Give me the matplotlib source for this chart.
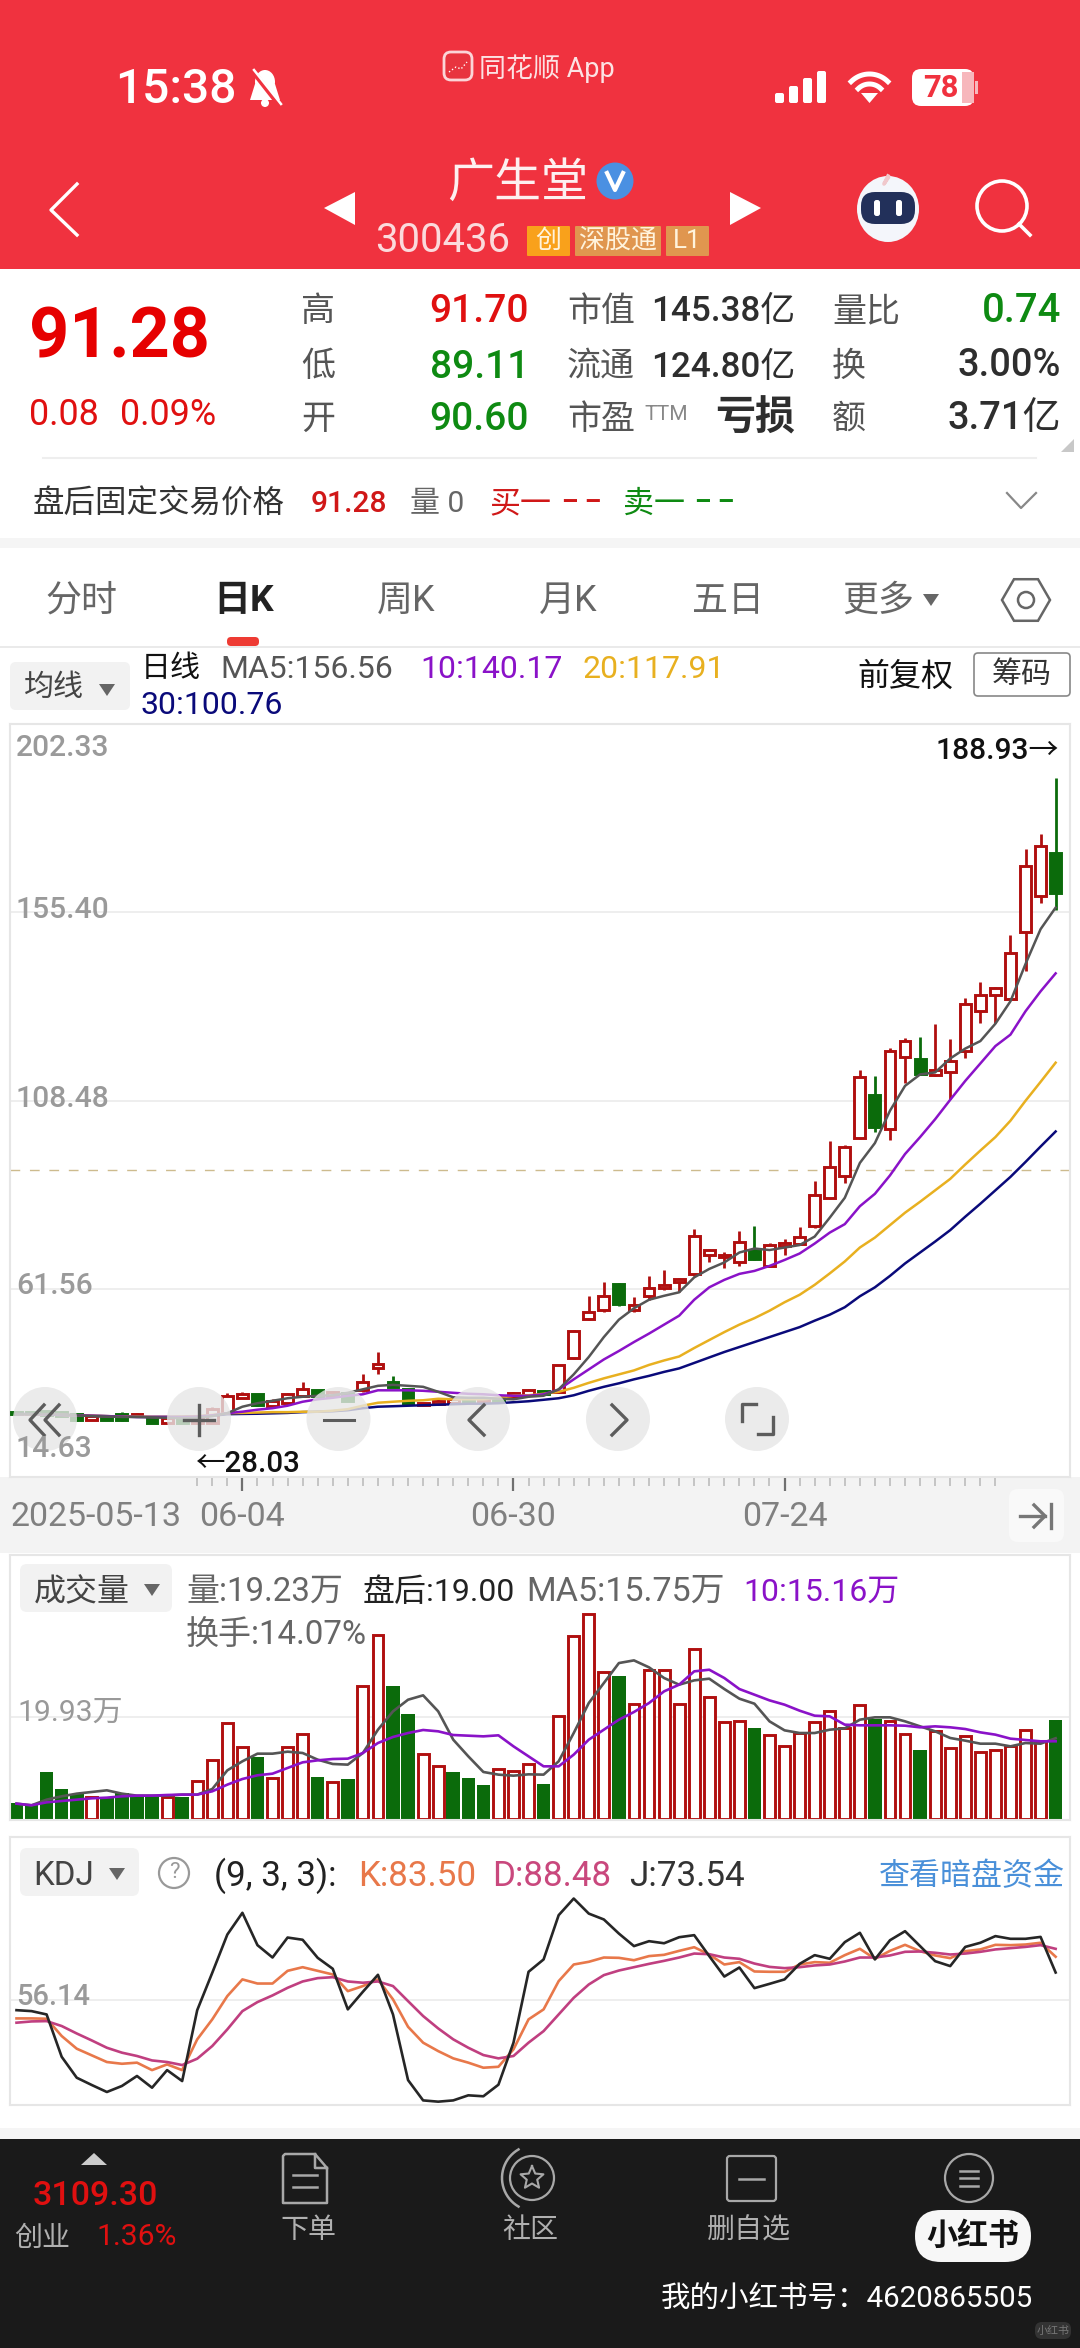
import matplotlib
matplotlib.use('Agg')
import matplotlib.pyplot as plt
from matplotlib.patches import FancyBboxPatch, Circle, Ellipse, Polygon, Rectangle, RegularPolygon
import numpy as np

plt.rcParams['font.family'] = ['Roboto', 'Noto Sans CJK SC', 'DejaVu Sans']

W, H = 1080, 2348

# daily candles
opens = [30.79,30.9,31.16,30.9,30.29,28.93,29.79,30.29,29.92,29.42,28.18,29.05,28.03,28.2,
         30.66,34.38,35.25,32.4,33.02,34.88,36.24,34.88,35.62,36.24,41.82,38.35,36.49,32.52,
         32.77,33.14,34.26,33.51,34.38,34.63,35.12,36.0,
         35.87,44.3,54.1,56.33,62.78,56.33,59.8,61.66,63.15,65.26,70.09,69.35,68.11,71.21,
         67.12,72.32,72.7,77.16,84.23,89.69,99.11,109.77,101.34,119.2,118.83,114.73,115.6,
         120.81,130.73,134.7,133.83,150.57,159.37,170.29]
closes = [30.29,30.3,30.16,29.9,28.8,29.79,28.93,28.8,30.29,28.18,29.42,28.03,29.42,31.5,
          34.88,35.37,32.52,33.63,35.25,36.49,34.88,35.87,33.63,38.35,42.81,37.11,32.77,33.02,
          33.63,34.0,33.39,34.38,33.63,35.62,36.24,35.37,
          42.45,51.0,55.71,59.8,57.82,57.57,61.66,62.53,63.89,74.68,71.09,69.97,73.19,68.85,
          72.45,73.07,74.56,84.85,91.92,96.88,114.24,101.84,120.81,123.29,114.98,116.1,118.45,
          132.59,134.82,136.43,145.36,166.94,171.9,160.24]
highs = [30.9,31.0,31.3,31.0,30.4,29.9,29.9,30.9,30.5,29.5,29.5,29.2,29.6,32.1,
         35.62,35.87,35.4,34.0,35.62,38.35,36.4,36.1,35.8,40.2,45.79,39.84,36.6,33.2,
         34.4,34.3,34.4,34.5,34.5,35.9,36.5,36.3,
         42.6,51.37,59.68,63.15,62.9,59.43,64.63,66.13,64.14,76.5,71.34,70.84,76.05,77.16,
         73.07,74.06,77.04,88.45,98.37,97.5,115.97,114.61,121.68,124.16,124.28,127.63,123.91,
         133.95,137.92,136.68,149.7,171.28,175.0,188.93]
lows = [30.2,30.2,30.1,29.8,28.7,28.8,28.8,28.7,29.8,28.1,28.1,28.03,28.03,28.1,
        30.5,34.2,32.4,32.15,32.77,34.7,34.7,34.7,33.5,35.87,40.2,37.0,32.6,32.4,
        32.6,33.0,33.3,33.4,33.5,34.5,35.0,35.2,
        35.7,43.93,53.85,55.71,57.2,55.71,58.81,61.29,60.67,64.63,68.11,66.62,67.12,68.7,
        66.87,69.97,72.45,76.79,83.86,87.95,98.86,100.72,98.61,112.75,114.73,114.49,108.78,
        118.95,127.88,127.88,133.46,140.65,157.64,155.9]

ma5 = [30.3,30.3,30.3,30.2,30.0,29.8,29.7,29.6,29.6,29.5,29.4,29.3,29.4,29.8,
       30.54,32.15,33.02,33.63,34.26,34.63,34.88,35.0,35.62,36.49,37.36,37.6,37.36,37.11,
       35.87,34.5,34.38,34.38,34.13,34.0,34.63,34.88,
       36.49,40.21,44.55,49.51,53.85,56.69,58.81,59.8,60.67,64.39,66.5,68.11,70.59,71.58,
       71.21,71.83,72.45,74.56,79.27,84.23,92.91,97.87,105.93,112.13,114.98,115.48,118.95,
       121.43,123.29,127.63,133.21,142.51,151.19,156.56]
ma10 = [30.3,30.3,30.2,30.1,30.0,29.9,29.8,29.7,29.6,29.6,29.6,29.6,29.7,30.0,
        30.54,30.91,31.41,31.78,32.4,33.39,34.0,34.38,34.88,35.25,36.24,36.24,36.24,36.12,
        35.87,35.62,35.37,35.25,35.0,34.88,34.88,35.25,
        36.4,38.97,41.45,43.93,46.04,48.27,50.38,52.61,54.84,58.81,61.91,63.77,65.26,66.0,
        67.24,68.73,70.34,72.82,75.55,77.66,82.12,85.22,89.81,95.14,99.36,103.82,108.66,
        113.37,117.71,122.05,124.9,130.73,135.69,140.17]
ma20 = [30.3,30.2,30.2,30.1,30.0,29.9,29.8,29.7,29.7,29.6,29.6,29.7,29.8,30.1,
        30.54,30.6,30.7,30.8,30.8,30.9,30.91,31.16,31.53,32.4,33.14,33.39,33.63,33.76,
        34.13,34.0,34.0,34.0,34.38,34.88,35.0,35.37,
        35.87,36.86,38.1,39.22,40.21,41.2,42.57,43.68,44.67,46.78,48.77,50.75,52.61,54.22,
        56.08,58.19,60.05,62.53,65.38,68.36,71.83,74.31,77.41,80.51,83.24,86.09,88.94,
        92.54,96.0,99.36,103.45,108.41,113.12,117.91]
ma30 = [30.3,30.3,30.2,30.1,30.0,29.9,29.8,29.7,29.6,29.6,29.6,29.6,29.7,29.9,
        30.29,30.35,30.4,30.5,30.6,30.8,30.91,31.03,31.28,31.78,32.15,32.27,32.4,32.52,
        32.65,32.77,32.9,32.9,33.02,33.27,33.51,33.88,
        34.26,35.0,36.12,37.11,37.98,38.97,39.84,40.83,41.7,43.06,44.43,45.79,47.03,48.27,
        49.51,50.75,51.99,53.6,55.09,56.95,59.68,61.91,64.76,67.86,70.59,73.32,76.17,
        79.52,82.74,86.09,89.44,93.16,97.0,100.76]

price_ticks = [202.33, 155.40, 108.48, 61.56, 14.63]
last_price = 91.28
date_idx = [15, 33, 51]
date_labels = ['06-04', '06-30', '07-24']

# volume in 万
vols = [3.12,2.8,9.17,5.85,4.94,4.29,4.1,5.07,4.42,4.29,4.29,4.29,7.41,11.57,18.79,14.04,
        12.03,7.93,14.04,16.58,8.19,7.15,7.87,26.0,35.95,25.87,20.48,12.74,10.34,9.17,8.0,
        6.63,9.82,9.3,10.73,6.89,20.15,35.75,39.91,28.73,27.82,22.49,28.99,28.99,22.49,33.15,
        23.79,18.98,19.05,17.75,16.38,14.24,16.77,18.92,21.0,17.75,22.17,19.57,19.11,16.51,
        13.39,17.23,13.78,16.25,13.13,13.46,14.17,17.29,15.15,19.23]
vol_up = [0,0,0,0,0,1,0,0,0,0,1,0,1,1,1,1,0,1,1,1,0,1,0,1,1,0,0,1,1,0,0,0,1,1,1,0,
          1,1,1,1,0,1,1,1,1,1,1,1,1,0,1,1,1,1,1,1,1,0,1,1,0,1,1,1,1,1,1,1,1,0]
vol_ma5 = [2.99,2.67,3.77,4.42,4.94,5.27,5.59,4.94,4.55,4.55,4.55,4.75,4.75,5.85,9.49,11.25,
           12.74,12.74,13.13,12.87,11.57,10.73,10.6,12.87,17.42,21.0,23.27,24.12,21.0,15.47,
           12.22,9.17,8.65,8.45,8.71,8.65,11.25,16.77,22.62,26.52,30.42,30.94,29.58,27.5,26.2,
           27.04,27.37,25.35,23.47,22.49,19.05,17.29,16.77,16.77,17.42,17.68,19.37,19.83,19.83,
           19.05,18.07,17.1,15.8,15.28,14.69,14.69,14.17,14.82,14.69,15.75]
vol_ma10 = [2.99,2.67,3.25,3.51,3.77,4.03,4.16,4.42,4.55,4.55,4.68,4.75,4.75,5.4,6.7,7.8,
            8.52,8.84,9.95,11.05,11.44,11.7,11.77,12.87,14.82,16.0,16.77,17.36,17.1,16.38,
            16.25,16.12,16.32,14.17,12.22,10.27,10.27,12.55,15.47,17.42,19.37,20.87,22.62,
            24.9,26.2,28.8,29.12,27.5,25.35,24.25,23.14,22.3,21.13,20.15,20.02,18.4,18.27,
            18.27,18.27,18.2,17.88,18.07,17.88,17.55,16.9,16.45,15.67,15.41,15.15,15.16]

kdj_j = [49.8,49.2,47.1,20.4,7.2,2.6,-1.8,2.0,8.3,0.9,12.0,5.1,49.8,73.4,97.5,111.2,90.8,83.0,
         95.6,94.2,82.8,75.9,50.3,61.4,72.1,47.1,5.7,-7.1,-7.9,-7.1,-3.9,-4.5,2.8,29.3,74.0,81.8,
         109.7,120.2,110.7,107.0,98.1,90.2,93.3,92.0,95.8,97.1,83.9,71.0,76.7,63.7,66.4,69.2,
         79.0,84.5,82.2,92.7,98.6,81.8,93.9,99.6,90.2,80.7,77.6,89.7,92.3,96.5,94.8,94.8,96.0,73.54]
kdj_k = [44.6,44.6,44.4,33.5,25.5,21.3,17.1,16.0,16.7,12.0,15.6,12.0,31.4,44.0,58.7,69.2,66.6,66.6,
         74.6,76.9,74.6,72.3,61.8,65.0,69.2,56.6,39.3,29.3,24.0,19.4,16.7,13.5,14.1,25.1,44.0,50.3,
         68.1,78.6,80.3,83.0,82.8,81.3,83.9,84.7,87.2,89.5,84.9,78.6,80.1,74.2,74.0,74.0,
         78.6,80.1,79.7,84.5,88.5,82.2,87.2,91.0,87.0,84.3,82.6,87.0,88.1,91.0,90.8,91.2,92.3,83.5]
kdj_d = [41.9,42.7,42.9,39.8,35.1,30.7,26.1,23.0,20.9,18.1,17.1,15.2,19.2,27.2,37.7,49.2,54.9,59.1,
         63.9,67.9,70.0,70.6,67.9,67.1,67.9,65.0,55.5,46.1,38.3,31.4,26.1,21.5,19.4,20.9,29.3,36.6,
         47.1,57.6,66.0,71.9,74.8,76.9,79.0,80.9,83.0,85.5,85.1,83.0,82.2,79.2,77.1,76.3,
         76.9,78.0,78.6,80.5,83.0,83.0,84.3,86.6,86.8,86.0,84.9,85.5,86.6,88.1,88.9,89.7,90.8,88.48]

RED = '#B00F0F'
GREEN = '#0B6B0B'
HEAD = '#F0323F'
UP_TXT = '#E01010'
DN_TXT = '#0E8A12'
GRID = '#EBEBEB'
PURPLE = '#8A12C8'


def pxa(left, top, right, bottom):
    ax = fig.add_axes([left / W, 1 - bottom / H, (right - left) / W, (bottom - top) / H])
    ax.patch.set_alpha(0)
    return ax


def frame(ax):
    ax.set_xticks([])
    ax.set_yticks([])
    for s in ax.spines.values():
        s.set_color('#E6E6E6')
        s.set_linewidth(1.5)


def t(x, y, s, size, color='#333333', ha='left', weight='normal'):
    # va=center sits a little high with these fonts
    return a.text(x, y + 3, s, fontsize=size * 0.72, color=color, ha=ha, va='center', weight=weight, zorder=8)


def box(a, x0, y0, x1, y1, fc, ec='none', r=6, lw=1, z=1, alpha=None):
    a.add_patch(FancyBboxPatch((x0 + r, y0 + r), x1 - x0 - 2 * r, y1 - y0 - 2 * r,
                               boxstyle='round,pad=%g,rounding_size=%g' % (r, r),
                               fc=fc, ec=ec, lw=lw, zorder=z, alpha=alpha))


fig = plt.figure(figsize=(W / 100, H / 100), dpi=100, facecolor='white')

# page layer, pixel coordinates
ui = fig.add_axes([0, 0, 1, 1], zorder=0)
ui.set_xlim(0, W)
ui.set_ylim(H, 0)
ui.axis('off')

ui.add_patch(Rectangle((0, 0), W, 269, fc=HEAD, ec='none'))
ui.add_patch(Rectangle((0, 538), W, 10, fc='#F5F5F5', ec='none'))
ui.add_patch(Rectangle((0, 1477), W, 76, fc='#F3F3F3', ec='none'))
ui.add_patch(Rectangle((0, 2128), W, 11, fc='#F5F5F5', ec='none'))
ui.add_patch(Rectangle((0, 2139), W, H - 2139, fc='#1A1A1A', ec='none'))
ui.plot([43, 1036], [458, 458], color='#EEEEEE', lw=1.5)
ui.plot([0, W], [647, 647], color='#E6E6E6', lw=1.2)
box(ui, 227, 637, 259, 646, '#EE3B33', r=4)

# chart panes
XL = (10 - 16.5) / 15.06
XR = (1070 - 16.5) / 15.06
idx = np.arange(len(opens))

ax = pxa(10, 724, 1070, 1477)
ax.set_xlim(XL, XR)
ax.set_ylim(14.63, 202.33)
frame(ax)
for v in price_ticks[1:-1]:
    ax.axhline(v, color=GRID, lw=1.2, zorder=1)
ax.axhline(last_price, color='#CDBB8E', lw=1, dashes=(7, 7), zorder=1)
for i in idx:
    up = closes[i] >= opens[i]
    col = RED if up else GREEN
    ax.vlines(i, lows[i], highs[i], color=col, lw=2, zorder=2)
    ax.bar(i, abs(closes[i] - opens[i]), bottom=min(opens[i], closes[i]), width=0.72,
           facecolor='white' if up else col, edgecolor=col, linewidth=2.1, zorder=3)
ax.plot(idx, ma30, color='#0A0A7A', lw=1.8, zorder=4)
ax.plot(idx, ma20, color='#E8B020', lw=1.8, zorder=4)
ax.plot(idx, ma10, color=PURPLE, lw=1.8, zorder=4)
ax.plot(idx, ma5, color='#555555', lw=1.8, zorder=4)

# date strip
dax = pxa(0, 1477, W, 1553)
dax.set_xlim((0 - 16.5) / 15.06, (W - 16.5) / 15.06)
dax.set_ylim(76, 0)
dax.axis('off')
dax.vlines(np.arange(12, 66), 1, 9, color='#B8B8B8', lw=1.1)
dax.vlines(date_idx, 1, 14, color='#707070', lw=1.6)
for i, lb in zip(date_idx, date_labels):
    dax.text(i, 40, lb, fontsize=34 * 0.72, color='#808080', ha='center', va='center')

vax = pxa(10, 1555, 1070, 1820)
vax.set_xlim(XL, XR)
vax.set_ylim(-0.2, 51.5)
frame(vax)
vax.axhline(19.93, color=GRID, lw=1.2, zorder=1)
for i in idx:
    if vol_up[i]:
        vax.bar(i, vols[i], width=0.72, facecolor='white', edgecolor=RED, linewidth=2.1, zorder=2)
    else:
        vax.bar(i, vols[i], width=0.9, color=GREEN, zorder=2)
vax.plot(idx, vol_ma5, color='#555555', lw=1.9, zorder=3)
vax.plot(idx, vol_ma10, color=PURPLE, lw=1.9, zorder=3)

kax = pxa(10, 1837, 1070, 2105)
kax.set_xlim(XL, XR)
kax.set_ylim(-10.0, 159.0)
frame(kax)
kax.axhline(56.14, color=GRID, lw=1.2, zorder=1)
kax.plot(idx, kdj_j, color='#262626', lw=1.9, zorder=4)
kax.plot(idx, kdj_k, color='#E8784A', lw=1.9, zorder=3)
kax.plot(idx, kdj_d, color='#C03F80', lw=1.9, zorder=3)

# top layer for texts and icons
a = fig.add_axes([0, 0, 1, 1], zorder=10)
a.set_xlim(0, W)
a.set_ylim(H, 0)
a.axis('off')
a.patch.set_alpha(0)

# status bar
t(115, 87, '15:38', 48, 'white', weight='medium')
a.add_patch(Ellipse((265, 82), 20, 24, fc='white', ec='none'))
a.add_patch(Polygon([(255, 84), (275, 84), (280, 100), (250, 100)], fc='white', ec='none'))
a.add_patch(Circle((265, 103), 4, fc='white', ec='none'))
a.plot([251, 280], [69, 106], color=HEAD, lw=3.6)
a.plot([254, 281], [70, 104], color='white', lw=1.8)
box(a, 444, 52, 472, 80, '#E8343F', ec='#FBD5D8', r=7, lw=2)
a.plot([449, 456, 461, 467], [72, 67, 69, 62], color='white', lw=1, ls=':')
t(479, 66, '同花顺 App', 27, '#FCE3E4')
for x, y0 in zip([775, 789, 803, 817], [93, 86, 78, 71]):
    box(a, x, y0, x + 9, 103, 'white', r=2)
for r_, lw_ in zip([26, 16], [5, 5]):
    th = np.linspace(np.radians(225), np.radians(315), 24)
    a.plot(869.5 + r_ * np.cos(th), 100 + r_ * np.sin(th), color='white', lw=lw_ * 0.72)
a.add_patch(Polygon([(861, 93), (878, 93), (869.5, 103)], fc='white', ec='none'))
box(a, 912, 69, 974, 106, 'white', r=9)
a.add_patch(Rectangle((962, 72), 12, 31, fc='#F7B7BC', ec='none'))
a.add_patch(Rectangle((975, 81), 3, 13, fc='#F7B7BC', ec='none'))
t(941, 85, '78', 31, HEAD, ha='center', weight='bold')

# title bar
a.plot([77, 51, 77], [184, 210, 235], color='white', lw=2.4)
a.add_patch(Polygon([(355, 192), (355, 225), (324, 208)], fc='white', ec='none'))
a.add_patch(Polygon([(730, 192), (730, 225), (761, 208)], fc='white', ec='none'))
t(518, 181, '广生堂', 47, '#FDF0F0', ha='center')
a.add_patch(Circle((615, 181), 18.5, fc='#4A90E2', ec='none'))
a.plot([607, 615, 623], [173, 190, 173], color='white', lw=3)
t(375, 238, '300436', 40, '#FBDADC')
box(a, 527, 226, 570, 256, '#F9A11B', r=1)
box(a, 575, 226, 661, 256, '#E0964F', r=1)
box(a, 666, 226, 709, 256, '#E0964F', r=1)
t(548, 238, '创', 26, '#FFF3DC', ha='center')
t(618, 238, '深股通', 26, '#FFF3DC', ha='center')
t(687, 238, 'L1', 26, '#FFF3DC', ha='center')
# robot
a.add_patch(Ellipse((888, 209), 62, 66, fc='#F4F6FB', ec='none'))
box(a, 861, 192, 915, 224, '#22305A', r=14, z=3)
a.plot([888, 884, 888], [176, 184, 178], color='#F0C8CC', lw=2.6)
box(a, 874, 200, 880, 216, 'white', r=2.5, z=4)
box(a, 896, 200, 902, 216, 'white', r=2.5, z=4)
a.add_patch(Circle((1002, 206), 25, fc='none', ec='white', lw=2.6))
a.plot([1019, 1030], [224, 235], color='white', lw=2.6)

# quote block
t(29, 335, '91.28', 70, '#E60000', weight='bold')
t(29, 412, '0.08', 36, '#E01010')
t(120, 412, '0.09%', 36, '#E01010')
rows = [309, 364, 417]
for y, s in zip(rows, ['高', '低', '开']):
    t(301, y, s, 34, '#555555')
for y, s, c in zip(rows, ['91.70', '89.11', '90.60'], [UP_TXT, DN_TXT, DN_TXT]):
    t(529, y, s, 39, c, ha='right', weight='medium')
t(567, 309, '市值', 34, '#555555')
t(567, 364, '流通', 34, '#555555')
t(567, 417, '市盈', 34, '#555555')
t(644, 411, 'TTM', 21, '#888888')
t(795, 309, '145.38亿', 35, '#2E2E2E', ha='right', weight='medium')
t(795, 364, '124.80亿', 35, '#2E2E2E', ha='right', weight='medium')
t(795, 415, '亏损', 40, '#2E2E2E', ha='right', weight='bold')
t(832, 309, '量比', 34, '#555555')
t(832, 364, '换', 34, '#555555')
t(832, 417, '额', 34, '#555555')
t(1061, 308, '0.74', 40, DN_TXT, ha='right', weight='medium')
t(1061, 363, '3.00%', 38, '#2E2E2E', ha='right', weight='medium')
t(1061, 416, '3.71亿', 38, '#2E2E2E', ha='right', weight='medium')
a.add_patch(Polygon([(1074, 439), (1074, 452), (1061, 452)], fc='#C8C8C8', ec='none'))

t(33, 501, '盘后固定交易价格', 31.5, '#333333')
t(311, 501, '91.28', 30, '#D01818', weight='medium')
t(410, 501, '量 0', 30, '#666666')
t(489, 501, '买一', 31, '#D01818', weight='medium')
t(562, 500, '– –', 26, '#D01818', weight='bold')
t(623, 501, '卖一', 31, DN_TXT, weight='medium')
t(695, 500, '– –', 26, DN_TXT, weight='bold')
a.plot([1007, 1021, 1036], [493, 508, 493], color='#888888', lw=1.6)

# tabs
for x, s in zip([81, 406, 568, 728, 878], ['分时', '周K', '月K', '五日', '更多']):
    t(x, 598, s, 36, '#666666', ha='center')
t(244, 598, '日K', 37, '#222222', ha='center', weight='bold')
a.add_patch(Polygon([(923, 594), (939, 594), (931, 606)], fc='#666666', ec='none'))
a.add_patch(RegularPolygon((1026, 600), 6, radius=24, orientation=np.pi / 6, fc='none', ec='#666666', lw=1.8))
a.add_patch(Circle((1026, 600), 8, fc='none', ec='#666666', lw=1.8))

# indicator header
box(a, 10, 662, 130, 710, '#F2F2F2', r=6)
t(24, 685, '均线', 30, '#444444')
a.add_patch(Polygon([(99, 684), (115, 684), (107, 696)], fc='#666666', ec='none'))
t(141, 666, '日线', 30, '#111111')
t(220, 666, 'MA5:156.56', 32, '#555555')
t(420, 666, '10:140.17', 32, PURPLE)
t(582, 666, '20:117.91', 32, '#E8B020')
t(140, 703, '30:100.76', 32, '#0A0A7A')
t(857, 674, '前复权', 32, '#111111')
box(a, 974, 653, 1070, 696, 'white', ec='#888888', r=4, lw=1.2)
t(1022, 672, '筹码', 30, '#333333', ha='center')

# price labels
for y, s in zip([745, 907, 1096, 1283, 1446], ['202.33', '155.40', '108.48', '61.56', '14.63']):
    t(16, y, s, 30, '#9A9A9A', weight='medium')
t(935, 748, '188.93→', 30, '#111111', weight='medium')
t(196, 1461, '←28.03', 29.5, '#111111', weight='medium')

# round zoom buttons over the chart
for x in [45, 199, 338.5, 478, 618, 757]:
    a.add_patch(Circle((x, 1419), 32, fc='#E6E6E6', ec='none', alpha=0.8, zorder=5))
ic = dict(color='#5C5C5C', lw=2.4, zorder=6)
a.plot([44, 30, 44], [1405, 1420, 1435], **ic)
a.plot([59, 45, 59], [1405, 1420, 1435], **ic)
a.plot([184, 214], [1420, 1420], **ic)
a.plot([199, 199], [1405, 1435], **ic)
a.plot([324, 354], [1420, 1420], color='#5C5C5C', lw=2.2, zorder=6)
a.plot([484, 469, 484], [1405, 1420, 1435], **ic)
a.plot([612, 627, 612], [1405, 1420, 1435], **ic)
a.plot([742, 742, 756], [1421, 1404, 1404], **ic)
a.plot([758, 773, 773], [1434, 1434, 1417], **ic)

# date strip labels and end button
t(10, 1514, '2025-05-13', 34, '#808080')
box(a, 1009, 1489, 1064, 1542, '#F9F9F9', r=9)
a.plot([1020, 1045], [1516, 1516], color='#777777', lw=2.4)
a.plot([1034, 1045, 1034], [1505, 1516, 1527], color='#777777', lw=2.4)
a.plot([1051, 1051], [1504, 1528], color='#777777', lw=2.4)

# volume header
box(a, 20, 1564, 172, 1612, '#F2F2F2', r=7)
t(34, 1589, '成交量', 32, '#444444')
a.add_patch(Polygon([(144, 1584), (160, 1584), (152, 1596)], fc='#666666', ec='none'))
t(186, 1589, '量:19.23万', 33, '#666666')
t(363, 1589, '盘后:19.00', 32, '#222222')
t(526, 1589, 'MA5:15.75万', 34, '#666666')
t(743, 1589, '10:15.16万', 32, PURPLE)
t(186, 1633, '换手:14.07%', 33, '#666666')
t(17, 1710, '19.93万', 30, '#999999')

# kdj header
box(a, 20, 1848, 139, 1896, '#F2F2F2', r=7)
t(33, 1873, 'KDJ', 33, '#444444')
a.add_patch(Polygon([(109, 1868), (125, 1868), (117, 1880)], fc='#666666', ec='none'))
a.add_patch(Circle((174, 1873), 15, fc='none', ec='#999999', lw=1.6))
t(174, 1870, '?', 22, '#999999', ha='center')
t(214, 1873, '(9, 3, 3):', 35, '#222222')
t(358, 1873, 'K:83.50', 35, '#E8784A')
t(492, 1873, 'D:88.48', 35, '#C9487D')
t(629, 1873, 'J:73.54', 35, '#333333')
t(879, 1873, '查看暗盘资金', 31, '#4A90D9')
t(16, 1994, '56.14', 29, '#9A9A9A', weight='medium')

# bottom bar
g = '#B0B0B0'
a.add_patch(Polygon([(81, 2165), (107, 2165), (94, 2153)], fc='#CCCCCC', ec='none'))
t(95, 2193, '3109.30', 34, '#E01010', ha='center', weight='medium')
t(14, 2235, '创业', 28, g)
t(96, 2234, '1.36%', 30, '#E01010')
for x, s in zip([308, 530, 749], ['下单', '社区', '删自选']):
    t(x, 2228, s, 28, g, ha='center')
ik = dict(color='#A8A8A8', lw=1.8)
a.plot([315, 285, 283, 283, 327, 327, 315, 315, 327], [2154, 2154, 2156, 2203, 2203, 2168, 2154, 2168, 2168], **ik)
a.plot([293, 317], [2175, 2175], **ik)
a.plot([293, 317], [2187, 2187], **ik)
a.add_patch(Circle((532, 2178), 22, fc='none', ec='#A8A8A8', lw=1.6))
ang = np.radians(-90 + 36 * np.arange(11))
rad = np.where(np.arange(11) % 2 == 0, 12, 5.5)
a.plot(532 + rad * np.cos(ang), 2178 + rad * np.sin(ang), color='#A8A8A8', lw=1.5)
th = np.linspace(np.radians(120), np.radians(240), 24)
a.plot(535 + 33 * np.cos(th), 2178 + 33 * np.sin(th), **ik)
box(a, 727, 2156, 776, 2201, '#1A1A1A', ec='#A8A8A8', r=3, lw=1.6)
a.plot([739, 764], [2179, 2179], zorder=3, **ik)
a.add_patch(Circle((969, 2178), 24, fc='none', ec='#A8A8A8', lw=1.6))
for y in [2171, 2178, 2186]:
    a.plot([960, 978], [y, y], **ik)
box(a, 915, 2210, 1031, 2262, '#F7F7F7', r=26)
t(973, 2233, '小红书', 31, '#111111', ha='center', weight='bold')
t(661, 2296, '我的小红书号：4620865505', 29.5, 'white')
box(a, 1035, 2322, 1071, 2339, '#333333', r=7)
t(1053, 2328, '小红书', 11, '#777777', ha='center')

fig.savefig('out.png', dpi=100, facecolor='white')
